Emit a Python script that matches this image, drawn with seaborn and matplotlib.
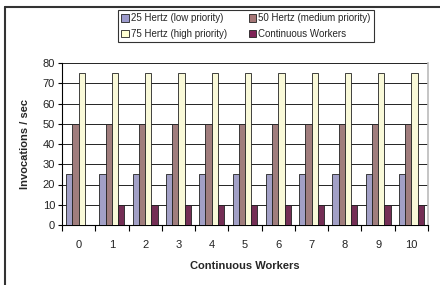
import matplotlib
matplotlib.use("Agg")
import matplotlib.pyplot as plt
import pandas as pd
import seaborn as sns
from matplotlib.lines import Line2D
from matplotlib.patches import Patch

workers = list(range(11))
hz25 = [25] * 11
hz50 = [50] * 11
hz75 = [75] * 11
continuous = [0, 10, 10, 10, 10, 10, 10, 10, 10, 10, 10]

series_names = [
    "25 Hertz (low priority)",
    "50 Hertz (medium priority)",
    "75 Hertz (high priority)",
    "Continuous Workers",
]
colors = ["#9c9acc", "#a67777", "#ffffd2", "#7f2357"]

rows = []
for name, values in zip(series_names, [hz25, hz50, hz75, continuous]):
    for w, v in zip(workers, values):
        rows.append({"workers": w, "series": name, "value": v})
df = pd.DataFrame(rows)

sns.set_theme(style="white")
plt.rcParams["font.family"] = ["Liberation Sans", "DejaVu Sans"]

fig = plt.figure(figsize=(4.4, 2.85), dpi=100)
ax = fig.add_axes([62 / 440, 1 - 225 / 285, 366 / 440, 162 / 285])

sns.barplot(
    data=df, x="workers", y="value", hue="series", hue_order=series_names,
    palette=colors, width=0.75, gap=0, edgecolor="#222222", linewidth=0.6,
    legend=False, ax=ax, zorder=3,
)

ax.set_xlim(-0.5, 10.5)
ax.set_ylim(0, 80)
ax.set_yticks(range(0, 81, 10))
ax.yaxis.grid(True, color="black", linewidth=0.6, zorder=0)
ax.set_axisbelow(True)

ax.set_xticks(workers)
ax.set_xticklabels([str(w) for w in workers])
ax.set_xticks([x - 0.5 for x in range(12)], minor=True)
ax.tick_params(axis="x", which="major", length=0, pad=11, labelsize=8, colors="#222222")
ax.tick_params(axis="x", which="minor", length=4, width=0.8, color="black", direction="out", bottom=True)
ax.tick_params(axis="y", length=3, width=0.8, color="black", left=True, pad=2, labelsize=8, colors="#222222")

for side in ["left", "bottom"]:
    ax.spines[side].set_color("black")
    ax.spines[side].set_linewidth(0.8)
ax.spines["top"].set_visible(False)
ax.spines["right"].set_color("#bbbbbb")
ax.spines["right"].set_linewidth(1.2)

ax.set_xlabel("Continuous Workers", fontsize=8, fontweight="bold", labelpad=8)
ax.set_ylabel("Invocations / sec", fontsize=8, fontweight="bold", labelpad=9)

handles = [Patch(facecolor=c, edgecolor="#222222", linewidth=0.6) for c in colors]
order = [0, 2, 1, 3]
leg = fig.legend(
    [handles[i] for i in order], [series_names[i] for i in order],
    ncol=2, loc="upper left", bbox_to_anchor=(118 / 440, 1 - 10 / 285),
    fontsize=7, frameon=True, fancybox=False, edgecolor="black",
    handlelength=0.8, handleheight=0.8, handletextpad=0.2, columnspacing=2.2,
    labelspacing=0.55, borderpad=0.35, borderaxespad=0,
)
leg.get_frame().set_linewidth(0.8)

fig.add_artist(Line2D([5 / 440, 1], [1 - 7 / 285, 1 - 7 / 285], color="#333333", linewidth=1.5))
fig.add_artist(Line2D([5 / 440, 5 / 440], [0, 1 - 7 / 285], color="#333333", linewidth=1.5))

fig.savefig("out.png", dpi=100)
